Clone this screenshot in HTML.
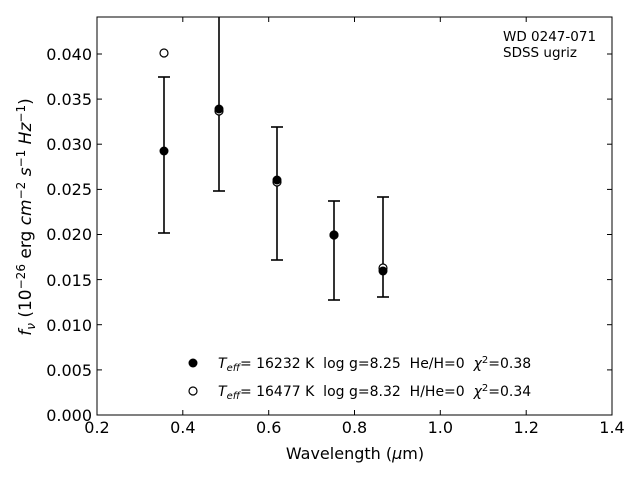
<!DOCTYPE html>
<html><head><style>
body{margin:0;background:#fff;}
svg text{font-family:"DejaVu Sans","Liberation Sans",sans-serif;white-space:pre;}
</style></head><body>
<svg width="640" height="480" xmlns="http://www.w3.org/2000/svg" xml:space="preserve">
<rect width="640" height="480" fill="#fff"/>
<g stroke="#000" stroke-width="1">
<line x1="182.8" y1="415" x2="182.8" y2="410"/><line x1="182.8" y1="17" x2="182.8" y2="22"/>
<line x1="268.7" y1="415" x2="268.7" y2="410"/><line x1="268.7" y1="17" x2="268.7" y2="22"/>
<line x1="354.5" y1="415" x2="354.5" y2="410"/><line x1="354.5" y1="17" x2="354.5" y2="22"/>
<line x1="440.3" y1="415" x2="440.3" y2="410"/><line x1="440.3" y1="17" x2="440.3" y2="22"/>
<line x1="526.2" y1="415" x2="526.2" y2="410"/><line x1="526.2" y1="17" x2="526.2" y2="22"/>
<line x1="97" y1="369.9" x2="102" y2="369.9"/><line x1="612" y1="369.9" x2="607" y2="369.9"/>
<line x1="97" y1="324.7" x2="102" y2="324.7"/><line x1="612" y1="324.7" x2="607" y2="324.7"/>
<line x1="97" y1="279.6" x2="102" y2="279.6"/><line x1="612" y1="279.6" x2="607" y2="279.6"/>
<line x1="97" y1="234.5" x2="102" y2="234.5"/><line x1="612" y1="234.5" x2="607" y2="234.5"/>
<line x1="97" y1="189.4" x2="102" y2="189.4"/><line x1="612" y1="189.4" x2="607" y2="189.4"/>
<line x1="97" y1="144.2" x2="102" y2="144.2"/><line x1="612" y1="144.2" x2="607" y2="144.2"/>
<line x1="97" y1="99.1" x2="102" y2="99.1"/><line x1="612" y1="99.1" x2="607" y2="99.1"/>
<line x1="97" y1="54" x2="102" y2="54"/><line x1="612" y1="54" x2="607" y2="54"/>
</g>
<g stroke="#000" stroke-width="1.6">
<line x1="164" y1="77" x2="164" y2="233"/><line x1="158" y1="77" x2="170" y2="77"/><line x1="158" y1="233" x2="170" y2="233"/>
<line x1="219" y1="17" x2="219" y2="191"/><line x1="213" y1="191" x2="225" y2="191"/>
<line x1="277" y1="127" x2="277" y2="260"/><line x1="271" y1="127" x2="283" y2="127"/><line x1="271" y1="260" x2="283" y2="260"/>
<line x1="334" y1="201" x2="334" y2="300"/><line x1="328" y1="201" x2="340" y2="201"/><line x1="328" y1="300" x2="340" y2="300"/>
<line x1="383" y1="197" x2="383" y2="297"/><line x1="377" y1="197" x2="389" y2="197"/><line x1="377" y1="297" x2="389" y2="297"/>
</g>
<g fill="#fff" stroke="#000" stroke-width="1.2">
<circle cx="164" cy="53" r="4"/><circle cx="219" cy="111" r="4"/><circle cx="277" cy="182" r="4"/><circle cx="334" cy="235" r="4"/><circle cx="383" cy="268" r="4"/>
<circle cx="193" cy="391" r="4"/>
</g>
<g fill="#000">
<circle cx="164" cy="151" r="4.5"/><circle cx="219" cy="109" r="4.5"/><circle cx="277" cy="180" r="4.5"/><circle cx="334" cy="235" r="4.5"/><circle cx="383" cy="271" r="4.5"/>
<circle cx="193" cy="363" r="4.5"/>
</g>
<rect x="97" y="17" width="515" height="398" fill="none" stroke="#000" stroke-width="1"/>
<g font-size="16" text-anchor="middle">
<text x="97" y="433">0.2</text><text x="182.8" y="433">0.4</text><text x="268.7" y="433">0.6</text><text x="354.5" y="433">0.8</text><text x="440.3" y="433">1.0</text><text x="526.2" y="433">1.2</text><text x="612" y="433">1.4</text>
</g>
<g font-size="16" text-anchor="end">
<text x="92" y="421">0.000</text><text x="92" y="376">0.005</text><text x="92" y="331">0.010</text><text x="92" y="286">0.015</text><text x="92" y="240">0.020</text><text x="92" y="195">0.025</text><text x="92" y="150">0.030</text><text x="92" y="105">0.035</text><text x="92" y="60">0.040</text>
</g>
<text x="355" y="459" font-size="16" text-anchor="middle">Wavelength (<tspan font-style="italic">μ</tspan>m)</text>
<text transform="translate(31,217) rotate(-90)" font-size="17" text-anchor="middle"><tspan font-style="italic">f</tspan><tspan font-style="italic" font-size="12" dy="4">ν</tspan><tspan dy="-4"> (10</tspan><tspan font-size="12" dy="-6">−26</tspan><tspan dy="6"> erg </tspan><tspan font-style="italic">cm</tspan><tspan font-size="12" dy="-6">−2</tspan><tspan dy="6" font-style="italic"> s</tspan><tspan font-size="12" dy="-6">−1</tspan><tspan dy="6" font-style="italic"> Hz</tspan><tspan font-size="12" dy="-6">−1</tspan><tspan dy="6">)</tspan></text>
<text x="503" y="41" font-size="13.5">WD 0247-071</text>
<text x="503" y="57" font-size="13.5">SDSS ugriz</text>
<text x="218" y="368" font-size="14"><tspan font-style="italic">T</tspan><tspan font-style="italic" font-size="10" dy="3">eff</tspan><tspan dy="-3">= 16232 K  log g=8.25  He/H=0  </tspan><tspan font-style="italic">χ</tspan><tspan font-size="10" dy="-5">2</tspan><tspan dy="5">=0.38</tspan></text>
<text x="218" y="396" font-size="14"><tspan font-style="italic">T</tspan><tspan font-style="italic" font-size="10" dy="3">eff</tspan><tspan dy="-3">= 16477 K  log g=8.32  H/He=0  </tspan><tspan font-style="italic">χ</tspan><tspan font-size="10" dy="-5">2</tspan><tspan dy="5">=0.34</tspan></text>
</svg>
</body></html>
